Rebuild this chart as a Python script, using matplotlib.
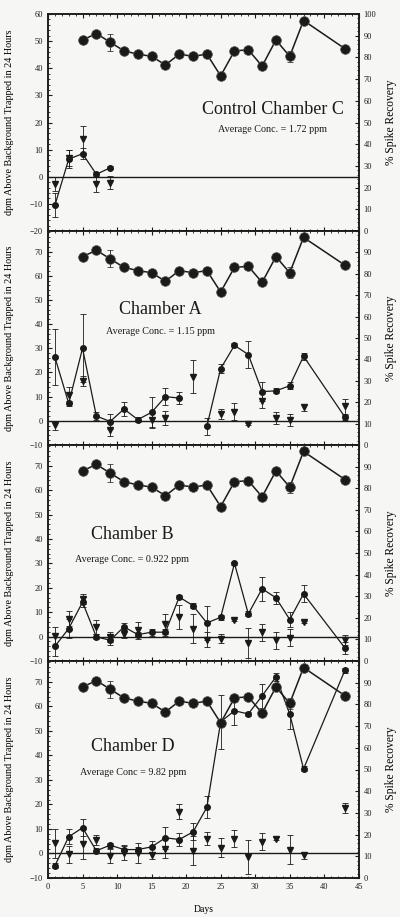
import numpy as np
import matplotlib.pyplot as plt
from matplotlib.ticker import MultipleLocator

plt.rcParams["font.family"] = ["Liberation Serif", "DejaVu Serif"]

nan = np.nan

days = [1, 3, 5, 7, 9, 11, 13, 15, 17, 19, 21, 23, 25, 27, 29, 31, 33, 35, 37, 43]
rec_days = days[2:]

# % spike recovery (same in every panel)
recovery = [88, 91, 87, 83, 81.5, 80.5, 76.5, 81.5, 80.5, 81.5, 71.5, 83, 83.5, 76, 88, 80.5, 97, 84]
recovery_err = [0.5, 1, 4, 0.5, 0.5, 0.5, 0.5, 0.5, 0.5, 1.5, 0.5, 0.5, 0.5, 0.5, 0.5, 2.5, 0.5, 0.5]

# dpm trapped, circles (connected) and triangles
c_circ = [-10.5, 6.5, 8.5, 0.9, 3.3] + [nan] * 15
c_circ_err = [4.5, 3.3, 2.0, 0.8, 0.6] + [nan] * 15
c_tri = [-2.7, 7.0, 13.8, -2.8, -2.2] + [nan] * 15
c_tri_err = [2.5, 3.0, 5.0, 2.7, 2.5] + [nan] * 15

a_circ = [26.3, 7.2, 30.0, 2.0, -0.3, 4.9, 0.5, 3.5, 10.0, 9.4, nan, -2.3, 21.6, 31.2, 27.4, 12.1, 12.4, 14.5, 26.7, 1.5]
a_circ_err = [11.5, 1.0, 14.0, 1.5, 3.0, 3.0, 1.0, 6.5, 3.5, 2.5, nan, 3.5, 2.0, 0.8, 5.5, 4.0, 1.0, 1.5, 1.5, 1.0]
a_tri = [-1.9, 10.6, 16.4, nan, -3.7, nan, nan, 0.4, 1.1, nan, 18.3, nan, 2.9, 3.8, -1.2, 8.3, 1.2, 0.4, 5.6, 6.0]
a_tri_err = [2.0, 3.5, 2.0, nan, 2.7, nan, nan, 3.0, 3.0, nan, 7.0, nan, 2.0, 3.5, 0.5, 3.0, 2.5, 2.5, 1.5, 3.0]

b_circ = [-4.0, 3.3, 14.1, -0.1, -1.5, 4.0, 0.8, 1.8, 1.8, 16.2, 12.7, 5.6, 7.9, 30.0, 9.3, 19.6, 15.9, 7.0, 17.5, -4.7]
b_circ_err = [4.0, 4.0, 2.0, 1.0, 2.0, 1.5, 1.0, 1.5, 1.5, 1.0, 1.0, 7.0, 1.0, 0.5, 1.0, 5.0, 2.5, 3.0, 3.5, 2.5]
b_tri = [0.1, 7.3, 15.5, 4.0, -0.3, 1.0, 2.5, nan, 5.2, 8.1, 3.3, -1.2, -0.8, 6.7, -2.6, 1.8, -1.5, -0.5, 5.9, -1.5]
b_tri_err = [4.0, 3.0, 2.0, 3.0, 2.0, 1.5, 3.5, nan, 4.0, 5.0, 6.0, 3.0, 2.0, 0.5, 6.0, 3.5, 3.5, 3.5, 0.5, 2.0]

d_circ = [-5.0, 6.8, 10.5, 1.1, 3.4, 1.6, 1.6, 2.7, 6.4, 5.7, 8.8, 18.8, 53.7, 58.2, 56.9, 64.3, 72.0, 56.9, 34.5, 74.8]
d_circ_err = [1.0, 3.0, 3.5, 1.0, 1.0, 1.5, 1.0, 2.5, 4.5, 2.5, 3.5, 4.5, 11.0, 6.0, 1.0, 5.0, 1.5, 6.0, 1.0, 1.0]
d_tri = [4.1, -0.3, 3.8, 5.4, -1.0, 0.3, 0.2, -0.7, 2.0, 17.0, 1.1, 6.1, 2.4, 6.1, -1.4, 4.8, 6.1, 1.6, -0.7, 18.4]
d_tri_err = [6.0, 3.5, 6.0, 2.0, 3.0, 3.0, 4.0, 1.5, 4.0, 3.0, 6.0, 2.5, 4.0, 3.5, 7.0, 3.5, 0.5, 6.0, 1.5, 2.0]

panels = [
    ("Control Chamber C", "Average Conc. = 1.72 ppm", c_circ, c_circ_err, c_tri, c_tri_err,
     (-20, 60), (32.5, 24.7), (32.5, 17.3)),
    ("Chamber A", "Average Conc. = 1.15 ppm", a_circ, a_circ_err, a_tri, a_tri_err,
     (-10, 78.5), (16.3, 46), (16.3, 37)),
    ("Chamber B", "Average Conc. = 0.922 ppm", b_circ, b_circ_err, b_tri, b_tri_err,
     (-10, 78.5), (12.2, 42), (12.2, 31.7)),
    ("Chamber D", "Average Conc = 9.82 ppm", d_circ, d_circ_err, d_tri, d_tri_err,
     (-10, 78.5), (12.3, 43.8), (12.3, 33.2)),
]

INK = "#1a1a1a"
fig = plt.figure(figsize=(4.0, 9.17), dpi=100, facecolor="#f6f6f4")

tops = [14, 231, 445, 661]
bottoms = [231, 445, 661, 878]
for i, (title, conc, circ, circ_err, tri, tri_err, ylim, tpos, cpos) in enumerate(panels):
    y0 = 1 - bottoms[i] / 917
    h = (bottoms[i] - tops[i]) / 917
    ax = fig.add_axes([0.12, y0, 0.777, h])
    ax.set_facecolor("#f6f6f4")
    ax2 = ax.twinx()

    ax.axhline(0, color=INK, lw=1.0, zorder=1)
    ax.errorbar(days, circ, yerr=circ_err, fmt="-o", color=INK, ms=4, lw=0.9,
                elinewidth=0.6, capsize=2, capthick=0.6, zorder=3)
    ax.errorbar(days, tri, yerr=tri_err, fmt="v", color=INK, ms=4,
                elinewidth=0.6, capsize=2, capthick=0.6, zorder=3)
    ax2.errorbar(rec_days, recovery, yerr=recovery_err, fmt="-o", color=INK, ms=7,
                 lw=1.1, elinewidth=0.6, capsize=2, capthick=0.6,
                 markeredgecolor="#555555", markeredgewidth=0.5)

    ax.set_xlim(0, 45)
    ax.set_ylim(*ylim)
    ax2.set_ylim(0, 100)
    if i == 0:
        ax.set_yticks(range(-20, 61, 10))
        ax2.set_yticks(range(0, 101, 10))
    else:
        ax.set_yticks(range(-10, 71, 10))
        ax2.set_yticks(range(0, 101, 10))
        ax2.set_yticklabels([str(v) for v in range(0, 91, 10)] + [""])
    ax.xaxis.set_major_locator(MultipleLocator(5))
    ax.xaxis.set_minor_locator(MultipleLocator(1))
    ax.yaxis.set_minor_locator(MultipleLocator(2))
    ax2.yaxis.set_minor_locator(MultipleLocator(2))
    ax.tick_params(axis="both", which="both", direction="in", labelsize=6, top=True, colors=INK)
    ax.tick_params(which="major", length=3)
    ax.tick_params(which="minor", length=1.5)
    ax2.tick_params(axis="y", which="both", direction="in", labelsize=6, colors=INK)
    ax2.tick_params(which="major", length=3)
    ax2.tick_params(which="minor", length=1.5)
    for a in (ax, ax2):
        for s in a.spines.values():
            s.set_linewidth(1.1)
            s.set_color(INK)

    if i < 3:
        ax.tick_params(axis="x", labelbottom=False)
    else:
        ax.set_xlabel("Days", fontsize=7, labelpad=10)

    ax.set_ylabel("dpm Above Background Trapped in 24 Hours", fontsize=7.3)
    ax.yaxis.set_label_coords(-0.11, 0.5)
    ax2.set_ylabel("% Spike Recovery", fontsize=8.3)
    ax2.yaxis.set_label_coords(1.085, 0.5)

    ax.text(tpos[0], tpos[1], title, ha="center", va="center", fontsize=13, color=INK)
    ax.text(cpos[0], cpos[1], conc, ha="center", va="center", fontsize=7.3, color=INK)

fig.savefig("out.png", dpi=100, facecolor=fig.get_facecolor())
